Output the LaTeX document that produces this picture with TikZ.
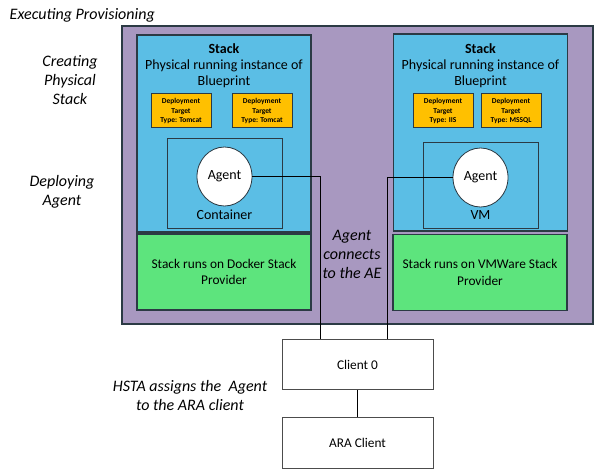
\documentclass[tikz,border=0pt]{standalone}
\usepackage{fontspec}
\setmainfont{Carlito}
\usepackage{tikz}
\usetikzlibrary{positioning,calc,fit,backgrounds,shapes.geometric}
\definecolor{provpurple}{HTML}{A898C0}
\definecolor{stackblue}{HTML}{5BBEE5}
\definecolor{provgreen}{HTML}{5DE47D}
\definecolor{targetgold}{HTML}{FFC000}
\definecolor{edgegray}{HTML}{2B3A44}

\tikzset{
  stackbox/.style={draw=edgegray,fill=stackblue,line width=0.9pt,minimum width=130.5pt,minimum height=147.75pt,inner sep=0pt},
  providerbox/.style={draw=edgegray,fill=provgreen,line width=0.9pt,minimum width=130.5pt,minimum height=57pt,align=center,font=\fontsize{10}{12.5}\selectfont},
  targetbox/.style={draw=edgegray,fill=targetgold,line width=0.75pt,minimum width=45pt,minimum height=25.5pt,inner sep=0pt,align=center,font=\fontsize{5.6}{7}\selectfont\bfseries},
  hostbox/.style={draw=edgegray,line width=0.75pt,minimum width=86.25pt,inner sep=0pt},
  agentnode/.style={ellipse,draw=edgegray,fill=white,line width=0.6pt,minimum width=41.25pt,minimum height=44.25pt,inner sep=0pt,font=\fontsize{10.5}{12}\selectfont},
  clientbox/.style={draw=black!70,fill=white,line width=0.75pt,minimum width=113.25pt,minimum height=38pt,font=\fontsize{10}{12}\selectfont},
  steplabel/.style={align=center,font=\fontsize{12}{14.25}\selectfont\itshape},
  wire/.style={draw=black,line width=0.75pt}
}

\begin{document}
\begin{tikzpicture}[x=0.75pt,y=-0.75pt]
\useasboundingbox (0,0) rectangle (595,470);
% provisioning area
\fill[provpurple] (122,26) rectangle (593,324);
\draw[edgegray,line width=1.2pt] (122,26) rectangle (593,324);

% stacks
\node[stackbox] (stackL) at (224,133.5) {};
\node[stackbox] (stackR) at (480.5,132.5) {};
\node[align=center,font=\fontsize{10.5}{12}\selectfont] (titleL) at (224,66) {\textbf{Stack}\\Physical running instance of\\Blueprint};
\node[align=center,font=\fontsize{10.5}{12}\selectfont] (titleR) at (480.5,66) {\textbf{Stack}\\Physical running instance of\\Blueprint};

% deployment targets
\node[targetbox] (tgtL1) at (181,111) {Deployment\\Target\\Type: Tomcat};
\node[targetbox] (tgtL2) at (262,111) {Deployment\\Target\\Type: Tomcat};
\node[targetbox] (tgtR1) at (443,111) {Deployment\\Target\\Type: IIS};
\node[targetbox] (tgtR2) at (511,111) {Deployment\\Target\\Type: MSSQL};

% container and vm
\node[hostbox,minimum height=66.75pt] (container) at (224.5,183.5) {};
\node[hostbox,minimum height=63.75pt] (vm) at (480.5,185.5) {};
\node[font=\fontsize{10.5}{12}\selectfont] at (224.5,215) {Container};
\node[font=\fontsize{10.5}{12}\selectfont] at (480.5,215) {VM};
\node[agentnode] (agentL) at (224.5,176.5) {Agent};
\node[agentnode] (agentR) at (480.5,177.5) {Agent};

% providers
\node[providerbox] (provL) at (224,272) {Stack runs on Docker Stack\\Provider};
\node[providerbox] (provR) at (480,272.5) {Stack runs on VMWare Stack\\Provider};

% clients
\node[clientbox] (client0) at (357.5,364.5) {Client 0};
\node[clientbox] (araclient) at (357.5,443) {ARA Client};

% connections
\draw[wire] (agentL.east) -| ([xshift=-28.125pt]client0.north);
\draw[wire] (agentR.west) -| ([xshift=22.125pt]client0.north);
\draw[wire] (client0) -- (araclient);

% step labels
\node[steplabel,anchor=west] (execlbl) at (5,15) {Executing Provisioning};
\node[steplabel] (createlbl) at (70,80) {Creating\\Physical\\Stack};
\node[steplabel] (deploylbl) at (62,192) {Deploying\\Agent};
\node[steplabel] (connectlbl) at (352,254) {Agent\\connects\\to the AE};
\node[steplabel] (hstalbl) at (190,396) {HSTA assigns the\ \ Agent\\to the ARA client};
\end{tikzpicture}
\end{document}
